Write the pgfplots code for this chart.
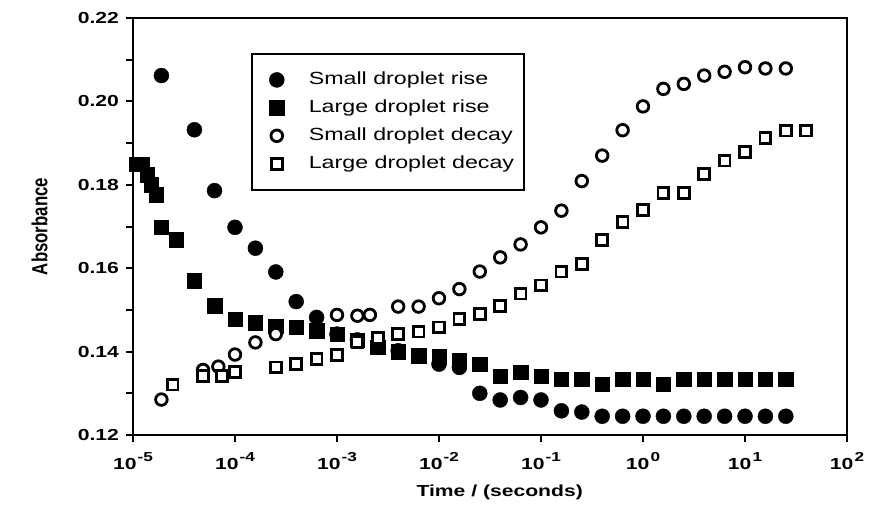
\documentclass[border=0pt]{standalone}
\usepackage{fontspec}
\setmainfont{Liberation Sans}[FakeStretch=1.32]
\newfontfamily\plainfont{Liberation Sans}
\usepackage{pgfplots}
\pgfplotsset{compat=1.18}
\newcommand{\ex}[1]{10\kern0.6pt\raisebox{0.5em}{\fontsize{6.5}{7}\selectfont\bfseries #1}}

\pgfplotstableread{
t y
1.9e-5 0.2062
4.0e-5 0.1932
6.3e-5 0.1786
1.0e-4 0.1698
1.585e-4 0.1648
2.512e-4 0.1591
3.981e-4 0.1520
6.31e-4 0.1482
1.0e-3 0.1442
1.585e-3 0.1428
2.512e-3 0.1410
3.981e-3 0.1402
6.31e-3 0.1390
1.0e-2 0.1370
1.585e-2 0.1362
2.512e-2 0.1300
3.981e-2 0.1284
6.31e-2 0.1290
0.1 0.1284
0.1585 0.1258
0.2512 0.1255
0.3981 0.1245
0.631 0.1245
1 0.1245
1.585 0.1245
2.512 0.1245
3.981 0.1245
6.31 0.1245
10 0.1245
15.85 0.1245
25.12 0.1245
}\smallrise

\pgfplotstableread{
t y
1.09e-5 0.1850
1.22e-5 0.1850
1.37e-5 0.1824
1.5e-5 0.1800
1.69e-5 0.1776
1.89e-5 0.1699
2.67e-5 0.1668
3.98e-5 0.1570
6.3e-5 0.1510
1e-4 0.1478
1.585e-4 0.1469
2.512e-4 0.1461
3.981e-4 0.1458
6.31e-4 0.1450
1e-3 0.1442
1.585e-3 0.1428
2.512e-3 0.1410
3.981e-3 0.1400
6.31e-3 0.1390
1e-2 0.1388
1.585e-2 0.1378
2.512e-2 0.1370
3.981e-2 0.1341
6.31e-2 0.1350
0.1 0.1341
0.1585 0.1334
0.2512 0.1334
0.3981 0.1322
0.631 0.1334
1 0.1334
1.585 0.1322
2.512 0.1334
3.981 0.1334
6.31 0.1334
10 0.1334
15.85 0.1334
25.12 0.1334
}\largerise

\pgfplotstableread{
t y
1.9e-5 0.1285
4.86e-5 0.1356
6.87e-5 0.1364
1e-4 0.1393
1.585e-4 0.1422
2.512e-4 0.1442
1e-3 0.1488
1.585e-3 0.1486
2.1e-3 0.1488
3.981e-3 0.1508
6.31e-3 0.1508
1e-2 0.1528
1.585e-2 0.1550
2.512e-2 0.1592
3.981e-2 0.1626
6.31e-2 0.1657
0.1 0.1698
0.1585 0.1738
0.2512 0.1809
0.3981 0.1870
0.631 0.1931
1 0.1988
1.585 0.2030
2.512 0.2042
3.981 0.2062
6.31 0.2071
10 0.2082
15.85 0.2079
25.12 0.2079
}\smalldecay

\pgfplotstableread{
t y
2.44e-5 0.1321
4.86e-5 0.1341
7.5e-5 0.1341
1e-4 0.1351
2.512e-4 0.1362
3.981e-4 0.1370
6.31e-4 0.1382
1e-3 0.1392
1.585e-3 0.1422
2.512e-3 0.1432
3.981e-3 0.1442
6.31e-3 0.1448
1e-2 0.1458
1.585e-2 0.1478
2.512e-2 0.1490
3.981e-2 0.1510
6.31e-2 0.1539
0.1 0.1559
0.1585 0.1592
0.2512 0.1610
0.3981 0.1668
0.631 0.1711
1 0.1740
1.585 0.1780
2.512 0.1780
3.981 0.1826
6.31 0.1858
10 0.1879
15.85 0.1912
25.12 0.1930
39.81 0.1930
}\largedecay

\begin{document}
\begin{tikzpicture}[x=1pt,y=1pt]
\useasboundingbox (0,0) rectangle (435.5,255);
\begin{axis}[
  at={(66.5pt,37.5pt)}, anchor=south west,
  scale only axis, width=357pt, height=208.5pt,
  xmode=log, xmin=1e-5, xmax=1e2, ymin=0.12, ymax=0.22,
  xtick={1e-5,1e-4,1e-3,1e-2,1e-1,1e0,1e1,1e2},
  xticklabels={\ex{-5},\ex{-4},\ex{-3},\ex{-2},\ex{-1},\ex{0},\ex{1},\ex{2}},
  xminorticks=false,
  ytick={0.12,0.14,0.16,0.18,0.20,0.22},
  yticklabels={0.12,0.14,0.16,0.18,0.20,0.22},
  minor ytick={0.13,0.15,0.17,0.19,0.21},
  tick align=outside, xtick pos=bottom, ytick pos=left,
  major tick length=3.5pt, minor tick length=3.5pt,
  axis line style={line width=1.2pt},
  every tick/.style={line width=1pt, black},
  tick label style={font=\fontsize{8}{9}\selectfont\bfseries},
  xticklabel style={yshift=-1.5pt},
  xlabel={\fontsize{8}{9}\selectfont\bfseries Time / (seconds)},
  xlabel style={at={(axis description cs:0.5136,-0.137)}, anchor=center},
  ylabel={\scalebox{1}[1.3]{\plainfont\fontsize{8.4}{9}\selectfont\bfseries Absorbance}},
  ylabel style={at={(axis description cs:-0.131,0.5)}, anchor=center},
  legend style={at={(axis description cs:0.165,0.916)}, anchor=north west,
    draw=black, line width=1pt, inner xsep=3pt, inner ysep=7pt,
    font=\fontsize{8.8}{10}\selectfont, row sep=2.1pt,
    /tikz/every even column/.append style={column sep=5pt}},
  legend cell align=left,
  legend image code/.code={\path (0pt,0pt) (22.5pt,0pt);\draw[mark repeat=2,mark phase=2,#1] plot coordinates {(2pt,0pt) (9pt,0pt) (16pt,0pt)};},
]
\addplot[only marks, mark=*, mark size=3.75pt, mark options={fill=black, draw=black, line width=0.2pt}] table[x=t,y=y] {\smallrise};
\addlegendentry{Small droplet rise}
\addplot[only marks, mark=square*, mark size=3.6pt, mark options={fill=black, draw=black, line width=0.2pt}] table[x=t,y=y] {\largerise};
\addlegendentry{Large droplet rise}
\addplot[only marks, mark=*, mark size=2.9pt, mark options={fill=white, draw=black, line width=1.4pt}] table[x=t,y=y] {\smalldecay};
\addlegendentry{Small droplet decay}
\addplot[only marks, mark=square*, mark size=2.7pt, mark options={fill=white, draw=black, line width=1.4pt}] table[x=t,y=y] {\largedecay};
\addlegendentry{Large droplet decay}
\end{axis}
\end{tikzpicture}
\end{document}
